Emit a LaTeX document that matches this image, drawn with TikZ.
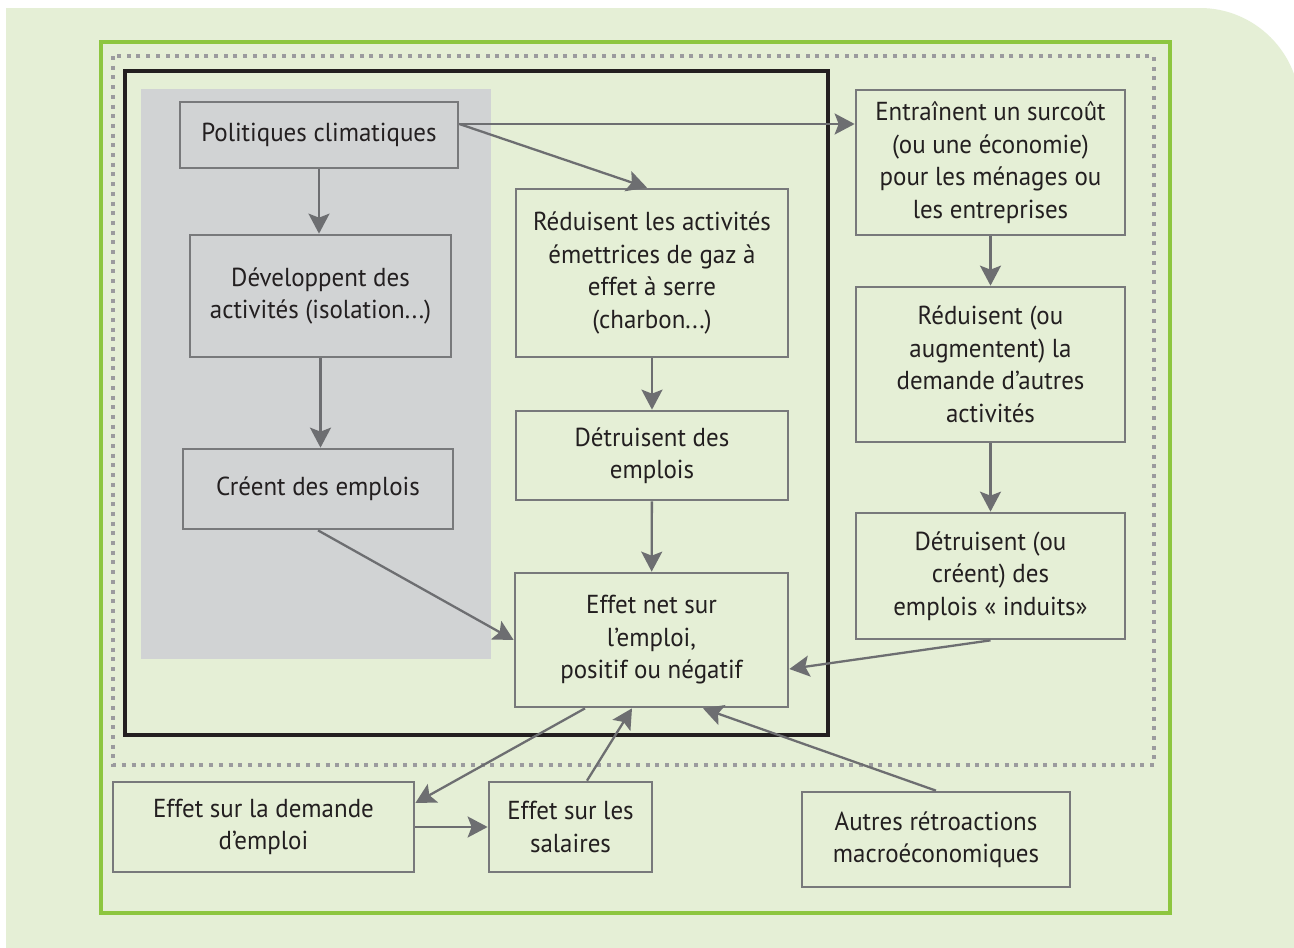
\documentclass[tikz,border=0pt]{standalone}
\usepackage{fontspec}
\setmainfont[FakeStretch=0.96]{PT Sans}
\usetikzlibrary{arrows.meta}

\definecolor{bggreen}{HTML}{E5EFD6}
\definecolor{framegreen}{HTML}{8DC63F}
\definecolor{dotgray}{HTML}{9B9B9E}
\definecolor{boxgray}{HTML}{78797B}
\definecolor{arrgray}{HTML}{6D6E71}
\definecolor{panelgray}{HTML}{D1D3D4}
\definecolor{ink}{HTML}{231F20}

\begin{document}
\begin{tikzpicture}[x=1pt,y=-1pt]

        \useasboundingbox (0,0) rectangle (1294,948);
        \fill[white] (0,0) rectangle (1294,948);
        \fill[bggreen] (6,948) -- (6,8) -- (1200,8)
          .. controls (1255,8) and (1300,53) .. (1300,108) -- (1300,948) -- cycle;

        \draw[framegreen, line width=4pt] (101,42) rectangle (1170,913);
        \draw[dotgray, line width=4pt, dash pattern=on 4pt off 5.7pt] (113,56) rectangle (1154,765);
        \draw[ink, line width=3.5pt] (125,71) rectangle (828,735);
        \fill[panelgray] (141,89) rectangle (491,659);

        \begin{scope}[every node/.style={draw=boxgray, line width=2.7pt, text=ink, align=center,
            inner sep=0pt, font=\fontsize{26}{32.5}\selectfont}]
          \node (1)  at (319,135)    [minimum width=278, minimum height=66]  {Politiques climatiques};
          \node (2)  at (320.5,296)  [minimum width=261, minimum height=122] {Développent des\\activités (isolation...)};
          \node (3)  at (318,489)    [minimum width=270, minimum height=80]  {Créent des emplois};
          \node (4)  at (652,273)    [minimum width=272, minimum height=168] {Réduisent les activités\\émettrices de gaz à\\effet à serre\\(charbon...)};
          \node (5)  at (652,455.5)  [minimum width=272, minimum height=89]  {Détruisent des\\emplois};
          \node (6)  at (651.5,640)  [minimum width=273, minimum height=134] {Effet net sur\\l’emploi,\\positif ou négatif};
          \node (7)  at (990.5,162.5)[minimum width=269, minimum height=145] {Entraînent un surcoût\\(ou une économie)\\pour les ménages ou\\les entreprises};
          \node (8)  at (990.5,364.5)[minimum width=269, minimum height=155] {Réduisent (ou\\augmentent) la\\demande d’autres\\activités};
          \node (9)  at (990.5,576)  [minimum width=269, minimum height=126] {Détruisent (ou\\créent) des\\emplois « induits»};
          \node (10) at (263.5,827)  [minimum width=301, minimum height=90]  {Effet sur la demande\\d’emploi};
          \node (11) at (570.5,827)  [minimum width=163, minimum height=90]  {Effet sur les\\salaires};
          \node (12) at (936,839.5)  [minimum width=268, minimum height=95]  {Autres rétroactions\\macroéconomiques};
        \end{scope}

        \coordinate (1a)  at ([yshift=11pt]1.east);
        \coordinate (4a)  at ([xshift=-5pt]4.north);
        \coordinate (6a)  at ([yshift=-29pt]6.east);
        \coordinate (6b)  at ([xshift=-66.5pt]6.south);
        \coordinate (6c)  at ([xshift=-19.5pt]6.south);
        \coordinate (6d)  at ([xshift=51.5pt]6.south);
        \coordinate (10a) at ([yshift=24pt]10.east);
        \coordinate (11a) at ([xshift=16.5pt]11.north);

        \begin{scope}[every edge/.style={draw=arrgray, line width=2.3pt,
            -{Stealth[length=20pt, width=21pt, inset=4pt]}}]
          \path (1)       edge (1 |- 2.north);
          \path (2)       edge (2 |- 3.north);
          \path (1a)      edge (1a -| 7.west);
          \path (1a)      edge (4a);
          \path (4)       edge (5);
          \path (5)       edge (6);
          \path (3.south) edge (6.west);
          \path (7)       edge (8);
          \path (8)       edge (9);
          \path (9.south) edge (6a);
          \path (6b)      edge (10a);
          \path (10)      edge (11);
          \path (11a)     edge (6c);
          \path (12.north) edge (6d);
        \end{scope}

      \end{tikzpicture}
\end{document}
